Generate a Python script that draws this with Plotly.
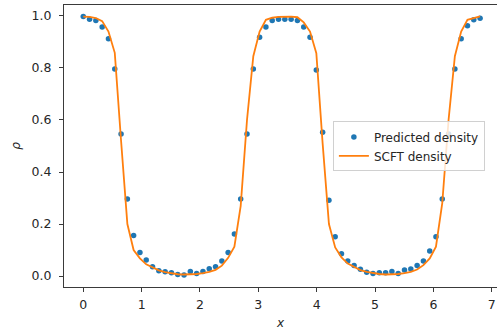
import plotly.graph_objects as go

# grid positions (64 samples over the box)
x_vals = [0.0, 0.108, 0.216, 0.324, 0.432, 0.540, 0.648, 0.756, 0.863, 0.971,
          1.079, 1.187, 1.295, 1.403, 1.511, 1.619, 1.727, 1.835, 1.943, 2.051,
          2.159, 2.267, 2.375, 2.483, 2.590, 2.698, 2.806, 2.914, 3.022, 3.130,
          3.238, 3.346, 3.454, 3.562, 3.670, 3.778, 3.886, 3.994, 4.102, 4.210,
          4.317, 4.425, 4.533, 4.641, 4.749, 4.857, 4.965, 5.073, 5.181, 5.289,
          5.397, 5.505, 5.613, 5.721, 5.829, 5.937, 6.044, 6.152, 6.260, 6.368,
          6.476, 6.584, 6.692, 6.800]

predicted = [0.998, 0.987, 0.982, 0.957, 0.912, 0.796, 0.546, 0.296, 0.156, 0.091,
             0.062, 0.036, 0.020, 0.017, 0.013, 0.006, 0.004, 0.018, 0.010, 0.018,
             0.028, 0.036, 0.058, 0.091, 0.162, 0.296, 0.546, 0.796, 0.918, 0.957,
             0.982, 0.987, 0.987, 0.987, 0.982, 0.957, 0.918, 0.792, 0.553, 0.291,
             0.151, 0.086, 0.058, 0.041, 0.026, 0.015, 0.010, 0.013, 0.013, 0.018,
             0.010, 0.023, 0.027, 0.041, 0.058, 0.096, 0.151, 0.296, 0.546, 0.796,
             0.912, 0.962, 0.985, 0.991]

scft = [0.997, 0.996, 0.992, 0.980, 0.940, 0.858, 0.520, 0.200, 0.100, 0.068,
        0.045, 0.032, 0.022, 0.015, 0.010, 0.007, 0.006, 0.006, 0.008, 0.011,
        0.016, 0.024, 0.040, 0.070, 0.113, 0.270, 0.600, 0.845, 0.940, 0.985,
        0.993, 0.996, 0.997, 0.997, 0.995, 0.975, 0.940, 0.857, 0.510, 0.200,
        0.110, 0.072, 0.048, 0.034, 0.023, 0.016, 0.011, 0.008, 0.006, 0.006,
        0.008, 0.011, 0.016, 0.025, 0.042, 0.068, 0.113, 0.280, 0.600, 0.845,
        0.940, 0.985, 0.993, 0.998]

x_ticks = [0, 1, 2, 3, 4, 5, 6, 7]
y_ticks = [0.0, 0.2, 0.4, 0.6, 0.8, 1.0]

FONT = "DejaVu Sans"
AX = "#3a3a3a"
TXT = "#262626"

fig = go.Figure()
fig.add_trace(go.Scatter(
    x=x_vals, y=predicted, mode="markers", name="Predicted density",
    marker=dict(color="#1f77b4", size=5.5, line=dict(width=0)),
))
fig.add_trace(go.Scatter(
    x=x_vals, y=scft, mode="lines", name="SCFT density",
    line=dict(color="#ff7f0e", width=1.8),
))

fig.update_layout(
    width=497, height=331,
    margin=dict(l=64, r=0, t=5, b=44),
    paper_bgcolor="white", plot_bgcolor="white",
    font=dict(family=FONT, size=12, color=TXT),
    showlegend=True,
    legend=dict(
        x=0.621, y=0.587, xanchor="left", yanchor="top",
        bgcolor="rgba(255,255,255,0.8)", bordercolor="#d0d0d0", borderwidth=1,
        font=dict(family=FONT, size=12, color=TXT),
        tracegroupgap=0, itemwidth=30,
    ),
    xaxis=dict(
        range=[-0.33, 7.09], tickmode="array", tickvals=x_ticks,
        ticktext=[str(t) for t in x_ticks],
        showgrid=False, zeroline=False,
        showline=True, linecolor=AX, linewidth=1, mirror=True,
        ticks="outside", ticklen=4, tickcolor=AX, tickwidth=1,
        ticklabelstandoff=2,
        tickfont=dict(family=FONT, size=12.5, color=TXT),
        title=dict(text="<i>x</i>", font=dict(family=FONT, size=12, color=TXT), standoff=7),
    ),
    yaxis=dict(
        range=[-0.042, 1.042], tickmode="array", tickvals=y_ticks,
        ticktext=[f"{t:.1f}" for t in y_ticks],
        showgrid=False, zeroline=False,
        showline=True, linecolor=AX, linewidth=1, mirror=False,
        ticks="outside", ticklen=4, tickcolor=AX, tickwidth=1,
        ticklabelstandoff=5,
        tickfont=dict(family=FONT, size=12.5, color=TXT),
        title=dict(text="<i>ρ</i>", font=dict(family=FONT, size=12, color=TXT), standoff=8),
    ),
)

fig.write_html("out.html")
